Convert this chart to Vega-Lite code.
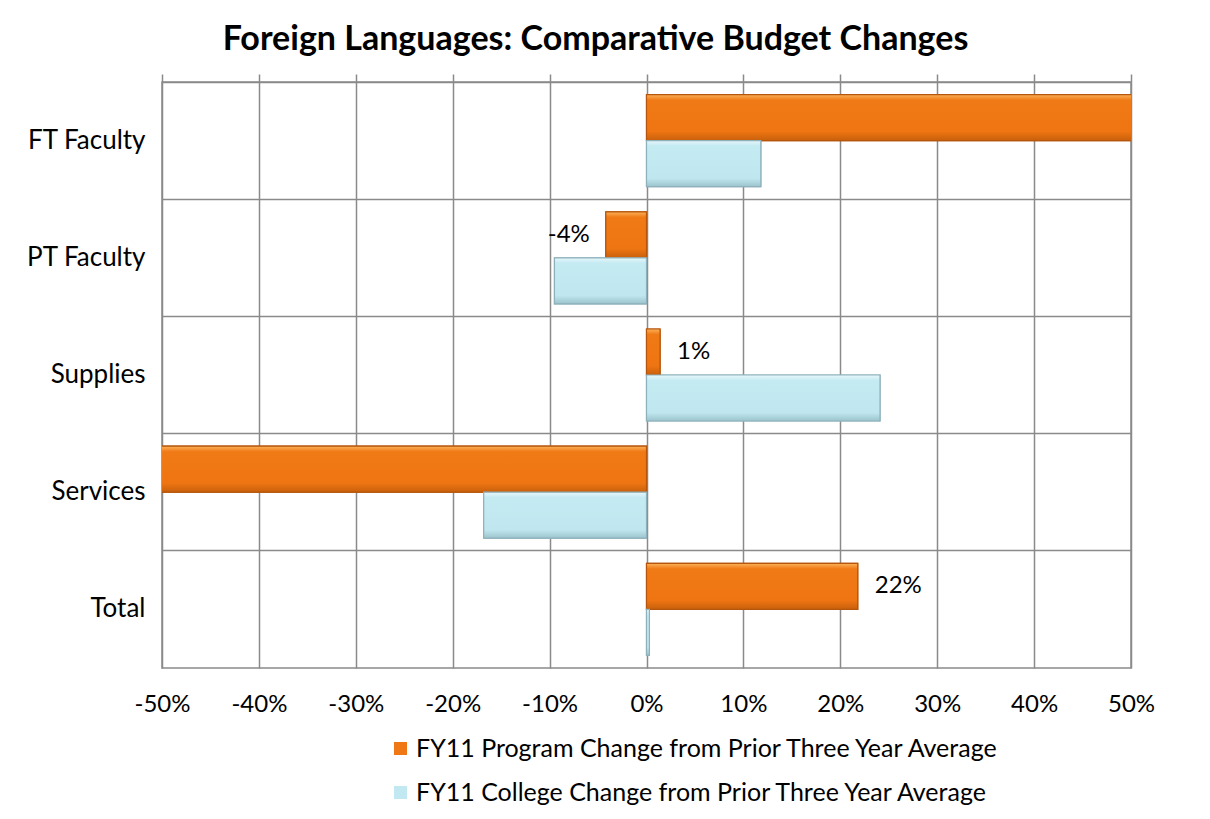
{
  "$schema": "https://vega.github.io/schema/vega-lite/v6.json",
  "autosize": {"type": "none"},
  "width": 969,
  "height": 586,
  "padding": {"left": 162, "top": 82, "right": 79, "bottom": 151},
  "background": "white",
  "title": {
    "text": "Foreign Languages: Comparative Budget Changes",
    "font": "Lato",
    "fontSize": 34,
    "fontWeight": "bold",
    "color": "#000000",
    "anchor": "middle",
    "dx": -51,
    "offset": 16
  },
  "config": {
    "font": "Lato",
    "view": {"stroke": "#8a8a8a", "strokeWidth": 1.5}
  },
  "data": {
    "values": [
      {"category": "FT Faculty", "series": "FY11 Program Change from Prior Three Year Average", "value": 58, "label": ""},
      {"category": "FT Faculty", "series": "FY11 College Change from Prior Three Year Average", "value": 11.8, "label": ""},
      {"category": "PT Faculty", "series": "FY11 Program Change from Prior Three Year Average", "value": -4.2, "label": "-4%"},
      {"category": "PT Faculty", "series": "FY11 College Change from Prior Three Year Average", "value": -9.5, "label": ""},
      {"category": "Supplies", "series": "FY11 Program Change from Prior Three Year Average", "value": 1.4, "label": "1%"},
      {"category": "Supplies", "series": "FY11 College Change from Prior Three Year Average", "value": 24.1, "label": ""},
      {"category": "Services", "series": "FY11 Program Change from Prior Three Year Average", "value": -62, "label": ""},
      {"category": "Services", "series": "FY11 College Change from Prior Three Year Average", "value": -16.8, "label": ""},
      {"category": "Total", "series": "FY11 Program Change from Prior Three Year Average", "value": 21.8, "label": "22%"},
      {"category": "Total", "series": "FY11 College Change from Prior Three Year Average", "value": 0.3, "label": ""}
    ]
  },
  "encoding": {
    "y": {
      "field": "category",
      "type": "nominal",
      "sort": ["FT Faculty", "PT Faculty", "Supplies", "Services", "Total"],
      "scale": {"paddingInner": 0, "paddingOuter": 0},
      "axis": {
        "title": null,
        "ticks": false,
        "domain": false,
        "labelFontSize": 26,
        "labelColor": "#000000",
        "labelPadding": 17,
        "grid": true,
        "gridColor": "#8a8a8a",
        "gridWidth": 1.5,
        "bandPosition": 0
      }
    },
    "yOffset": {
      "field": "series",
      "type": "nominal",
      "sort": ["FY11 Program Change from Prior Three Year Average", "FY11 College Change from Prior Three Year Average"],
      "scale": {"paddingInner": 0, "paddingOuter": 0.274}
    }
  },
  "resolve": {"axis": {"x": "independent"}},
  "layer": [
    {
      "mark": {"type": "bar", "clip": true, "strokeWidth": 1.2, "cornerRadius": 0},
      "encoding": {
        "x": {
          "field": "value",
          "type": "quantitative",
          "scale": {"domain": [-50, 50], "nice": false},
          "axis": {
            "orient": "bottom",
            "title": null,
            "values": [-50, -40, -30, -20, -10, 0, 10, 20, 30, 40, 50],
            "labelExpr": "datum.value + '%'",
            "labelFontSize": 24,
            "labelColor": "#000000",
            "labelPadding": 24,
            "labelFlush": false,
            "labelOverlap": false,
            "ticks": false,
            "domain": false,
            "grid": true,
            "gridColor": "#8a8a8a",
            "gridWidth": 1.5
          }
        },
        "color": {
          "field": "series",
          "type": "nominal",
          "sort": ["FY11 Program Change from Prior Three Year Average", "FY11 College Change from Prior Three Year Average"],
          "scale": {"range": ["#F07814", "#C2E9F1"]},
          "legend": {
            "title": null,
            "orient": "none",
            "legendX": 226,
            "legendY": 654,
            "direction": "vertical",
            "symbolType": "square",
            "symbolSize": 169,
            "symbolStrokeWidth": 1,
            "labelFontSize": 25,
            "labelColor": "#000000",
            "labelLimit": 900,
            "rowPadding": 18,
            "labelOffset": 3
          }
        },
        "stroke": {
          "field": "series",
          "type": "nominal",
          "sort": ["FY11 Program Change from Prior Three Year Average", "FY11 College Change from Prior Three Year Average"],
          "scale": {"range": ["#B5560C", "#8FB1BC"]},
          "legend": null
        }
      }
    },
    {
      "transform": [{"filter": "datum.series == 'FY11 Program Change from Prior Three Year Average'"}],
      "mark": {
        "type": "bar",
        "clip": true,
        "stroke": "#B5560C",
        "strokeWidth": 1.2,
        "color": {
          "gradient": "linear",
          "x1": 0, "y1": 0, "x2": 0, "y2": 1,
          "stops": [
            {"offset": 0, "color": "#FBB25A"},
            {"offset": 0.12, "color": "#F07A16"},
            {"offset": 0.8, "color": "#EF7512"},
            {"offset": 1, "color": "#C8600C"}
          ]
        }
      },
      "encoding": {
        "x": {"field": "value", "type": "quantitative", "axis": null}
      }
    },
    {
      "transform": [{"filter": "datum.series == 'FY11 College Change from Prior Three Year Average'"}],
      "mark": {
        "type": "bar",
        "clip": true,
        "stroke": "#8FB1BC",
        "strokeWidth": 1.2,
        "color": {
          "gradient": "linear",
          "x1": 0, "y1": 0, "x2": 0, "y2": 1,
          "stops": [
            {"offset": 0, "color": "#E6F7FA"},
            {"offset": 0.12, "color": "#C4EAF2"},
            {"offset": 0.82, "color": "#C0E7EF"},
            {"offset": 1, "color": "#9CC4CE"}
          ]
        }
      },
      "encoding": {
        "x": {"field": "value", "type": "quantitative", "axis": null}
      }
    },
    {
      "transform": [{"filter": "datum.label != '' && datum.value < 0"}],
      "mark": {"type": "text", "align": "right", "baseline": "middle", "dx": -16, "fontSize": 24, "color": "#000000"},
      "encoding": {
        "x": {"field": "value", "type": "quantitative", "axis": null},
        "text": {"field": "label"}
      }
    },
    {
      "transform": [{"filter": "datum.label != '' && datum.value > 0"}],
      "mark": {"type": "text", "align": "left", "baseline": "middle", "dx": 17, "fontSize": 24, "color": "#000000"},
      "encoding": {
        "x": {"field": "value", "type": "quantitative", "axis": null},
        "text": {"field": "label"}
      }
    },
    {
      "mark": {"type": "rule", "opacity": 0},
      "encoding": {
        "x": {
          "field": "value",
          "type": "quantitative",
          "axis": {
            "orient": "top",
            "title": null,
            "values": [-50, -40, -30, -20, -10, 0, 10, 20, 30, 40, 50],
            "labels": false,
            "domain": false,
            "grid": false,
            "ticks": true,
            "tickSize": 8,
            "tickColor": "#8a8a8a",
            "tickWidth": 1.5
          }
        }
      }
    }
  ]
}
